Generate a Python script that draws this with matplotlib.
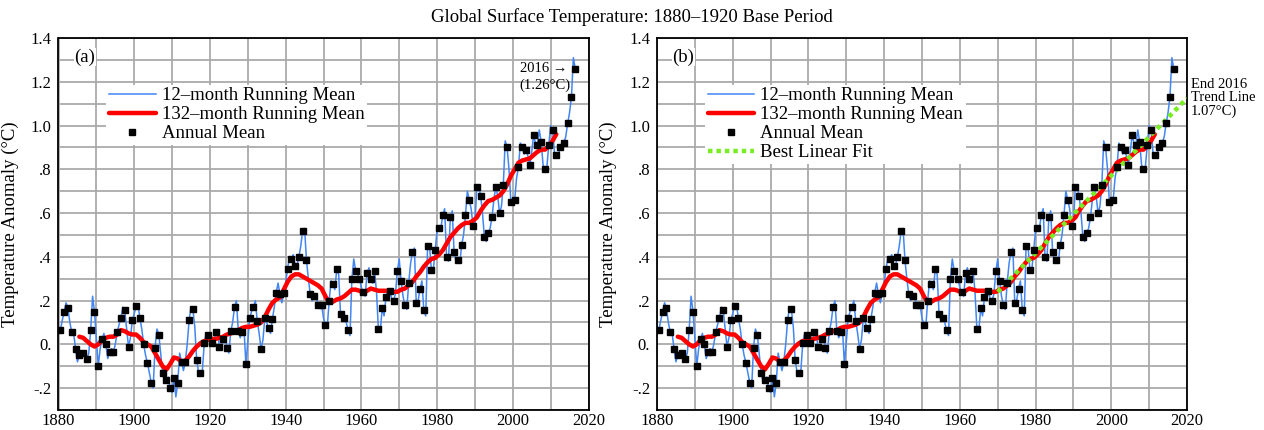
import numpy as np
import matplotlib
matplotlib.use('Agg')
import matplotlib.pyplot as plt
from matplotlib.ticker import MultipleLocator, FixedLocator, FixedFormatter

plt.rcParams['font.family'] = ['Liberation Serif', 'DejaVu Serif']

# ---------------- data ----------------
years = np.arange(1880, 2017)
annual_mean = [
    0.065, 0.15, 0.165, 0.055, -0.02, -0.05, -0.04, -0.065, 0.065, 0.15,
    -0.10, 0.025, 0.00, -0.035, -0.035, 0.055, 0.12, 0.155, -0.012, 0.11,
    0.175, 0.12, 0.00, -0.085, -0.175, -0.015, 0.045, -0.13, -0.165, -0.20,
    -0.155, -0.175, -0.08, -0.08, 0.11, 0.16, -0.07, -0.13, 0.005, 0.045,
    0.005, 0.055, -0.01, 0.025, -0.015, 0.06, 0.17, 0.06, 0.055, -0.09,
    0.12, 0.17, 0.105, -0.02, 0.12, 0.075, 0.115, 0.235, 0.23, 0.235,
    0.345, 0.39, 0.36, 0.40, 0.52, 0.385, 0.23, 0.22, 0.18, 0.18,
    0.09, 0.20, 0.275, 0.345, 0.14, 0.12, 0.065, 0.30, 0.335, 0.30,
    0.24, 0.325, 0.30, 0.335, 0.07, 0.165, 0.215, 0.245, 0.20, 0.335,
    0.29, 0.18, 0.28, 0.42, 0.19, 0.255, 0.155, 0.45, 0.34, 0.43,
    0.53, 0.59, 0.40, 0.58, 0.42, 0.385, 0.455, 0.59, 0.66, 0.54,
    0.72, 0.68, 0.49, 0.51, 0.58, 0.72, 0.60, 0.73, 0.90, 0.65,
    0.66, 0.81, 0.90, 0.89, 0.82, 0.955, 0.91, 0.925, 0.80, 0.91,
    0.98, 0.865, 0.90, 0.92, 1.01, 1.13, 1.26,
]

# 12-month running mean at the turn of each year (between annual points)
between_years = np.arange(1881, 2017)
running12_between = [
    0.11, 0.19, 0.10, 0.05, -0.08, -0.03, -0.03, -0.04, 0.22, 0.03,
    -0.02, 0.05, -0.065, -0.02, 0.00, 0.09, 0.17, 0.07, 0.03, 0.14,
    0.18, 0.07, -0.05, -0.13, -0.20, 0.07, -0.04, -0.17, -0.15, -0.22,
    -0.24, -0.04, -0.12, 0.00, 0.17, 0.08, -0.13, -0.12, 0.05, 0.03,
    -0.01, 0.06, -0.02, 0.04, -0.04, 0.10, 0.20, 0.03, 0.07, 0.01,
    0.15, 0.20, 0.05, 0.02, 0.10, 0.05, 0.17, 0.28, 0.19, 0.28,
    0.40, 0.41, 0.36, 0.45, 0.53, 0.30, 0.20, 0.23, 0.17, 0.12,
    0.08, 0.29, 0.25, 0.32, 0.11, 0.10, 0.04, 0.39, 0.32, 0.26,
    0.22, 0.35, 0.28, 0.24, 0.06, 0.13, 0.25, 0.21, 0.23, 0.39,
    0.22, 0.16, 0.37, 0.44, 0.20, 0.29, 0.13, 0.45, 0.34, 0.52,
    0.53, 0.62, 0.38, 0.61, 0.38, 0.37, 0.50, 0.70, 0.62, 0.55,
    0.72, 0.60, 0.47, 0.53, 0.66, 0.68, 0.63, 0.93, 0.80, 0.64,
    0.76, 0.92, 0.87, 0.86, 0.88, 0.92, 0.98, 0.82, 0.81, 1.00,
    0.88, 0.86, 0.92, 0.95, 1.06, 1.31,
]

# 132-month running mean
running132_years = np.arange(1885, 2012)
running132 = [
    0.035, 0.03, 0.015, 0.0, -0.01, 0.0, 0.02, 0.03, 0.035, 0.035,
    0.045, 0.065, 0.06, 0.05, 0.045, 0.045, 0.03, 0.01, 0.0, -0.01,
    -0.04, -0.07, -0.10, -0.115, -0.09, -0.06, -0.065, -0.08, -0.075, -0.055,
    -0.03, -0.01, 0.005, 0.015, 0.02, 0.025, 0.025, 0.03, 0.035, 0.045,
    0.05, 0.06, 0.065, 0.075, 0.08, 0.08, 0.085, 0.09, 0.10, 0.125,
    0.16, 0.19, 0.205, 0.215, 0.25, 0.285, 0.31, 0.32, 0.32, 0.31,
    0.30, 0.29, 0.28, 0.27, 0.255, 0.22, 0.19, 0.195, 0.205, 0.21,
    0.22, 0.235, 0.25, 0.25, 0.245, 0.235, 0.245, 0.255, 0.25, 0.245,
    0.245, 0.245, 0.245, 0.24, 0.24, 0.25, 0.255, 0.27, 0.285, 0.31,
    0.33, 0.355, 0.375, 0.39, 0.395, 0.41, 0.43, 0.46, 0.49, 0.51,
    0.53, 0.545, 0.555, 0.555, 0.565, 0.58, 0.61, 0.635, 0.655, 0.66,
    0.67, 0.68, 0.70, 0.73, 0.77, 0.80, 0.83, 0.84, 0.845, 0.85,
    0.865, 0.88, 0.89, 0.89, 0.905, 0.93, 0.96,
]

# best linear fit (1970 onward) end points
fit_years = [1970, 2020]
fit_values = [0.24, 1.125]

x_ticks = [1880, 1900, 1920, 1940, 1960, 1980, 2000, 2020]
y_ticks = [-0.2, 0.0, 0.2, 0.4, 0.6, 0.8, 1.0, 1.2, 1.4]
y_tick_labels = ['-.2', '0.', '.2', '.4', '.6', '.8', '1.0', '1.2', '1.4']

title = 'Global Surface Temperature: 1880\u20131920 Base Period'
ylabel = 'Temperature Anomaly (\u00b0C)'
leg_labels = ['12\u2013month Running Mean', '132\u2013month Running Mean',
              'Annual Mean', 'Best Linear Fit']

# ---------------- styling ----------------
BLUE = '#4286f4'
RED = '#ff0000'
GREEN = '#77ee22'
GRID = '#aaaaaa'

W, H = 1264, 430
fig = plt.figure(figsize=(W / 100, H / 100), dpi=100)
fig.patch.set_facecolor('white')

ax_a = fig.add_axes([58.5 / W, 20 / H, 530 / W, 372 / H])
ax_b = fig.add_axes([657 / W, 20 / H, 530 / W, 372 / H])

t_annual = years + 0.5
t_between = between_years + 0.0
t12 = np.concatenate([t_annual, t_between])
v12 = np.concatenate([np.asarray(annual_mean), np.asarray(running12_between)])
order = np.argsort(t12)
t12, v12 = t12[order], v12[order]


def setup(ax):
    ax.set_xlim(1880, 2020)
    ax.set_ylim(-0.3, 1.4)
    ax.xaxis.set_major_locator(FixedLocator(x_ticks))
    ax.xaxis.set_minor_locator(MultipleLocator(10))
    ax.yaxis.set_major_locator(FixedLocator(y_ticks))
    ax.yaxis.set_major_formatter(FixedFormatter(y_tick_labels))
    ax.yaxis.set_minor_locator(MultipleLocator(0.1))
    ax.grid(which='both', color=GRID, lw=1.3)
    ax.set_axisbelow(True)
    ax.tick_params(which='both', length=0, labelsize=12)
    ax.tick_params(axis='x', pad=2.5)
    ax.tick_params(axis='y', pad=5)
    for s in ax.spines.values():
        s.set_linewidth(1.3)
        s.set_color('black')
    ax.set_ylabel(ylabel, fontsize=13.5)
    ax.yaxis.set_label_coords(-0.075, 0.5)


handles = {}
for ax in (ax_a, ax_b):
    setup(ax)
    h1, = ax.plot(t12, v12, color=BLUE, lw=1.1, zorder=3)
    h2, = ax.plot(running132_years + 0.5, running132, color=RED, lw=3.2, zorder=4,
                  solid_capstyle='round')
    h3, = ax.plot(t_annual, annual_mean, ls='none', marker='s', ms=4.6,
                  color='black', zorder=6)
    handles[ax] = [h1, h2, h3]

h4, = ax_b.plot(fit_years, fit_values, color=GREEN, lw=3.2, ls=(0, (1.0, 0.9)),
                zorder=5)
handles[ax_b].append(h4)

for ax, n in ((ax_a, 3), (ax_b, 4)):
    leg = ax.legend(handles[ax], leg_labels[:n], loc='upper left',
                    bbox_to_anchor=(0.09, 0.875), fontsize=13.5, frameon=True,
                    fancybox=False, edgecolor='none', facecolor='white',
                    framealpha=1, borderpad=0.15, labelspacing=0.1,
                    handlelength=2.5, handletextpad=0.3, borderaxespad=0,
                    numpoints=1)
    leg.set_zorder(10)

for ax, lab in ((ax_a, '(a)'), (ax_b, '(b)')):
    ax.text(0.05, 0.949, lab, transform=ax.transAxes, fontsize=13.5,
            ha='center', va='center', zorder=11,
            bbox=dict(facecolor='white', edgecolor='none', pad=0.5))

ax_a.text(2001.9, 1.262, '2016 \u2192', fontsize=10.5, ha='left', va='center',
          zorder=11)
ax_a.text(2001.7, 1.183, '(1.26\u00b0C)', fontsize=10.5, ha='left', va='center',
          zorder=11)

ax_b.text(2021.0, 1.125, 'End 2016\nTrend Line\n1.07\u00b0C)', fontsize=10.5,
          ha='left', va='center', linespacing=1.05, clip_on=False)

fig.text(632 / W, 1 - 17 / H, title, ha='center', va='center', fontsize=13.5)

fig.savefig('out.png', dpi=100)
